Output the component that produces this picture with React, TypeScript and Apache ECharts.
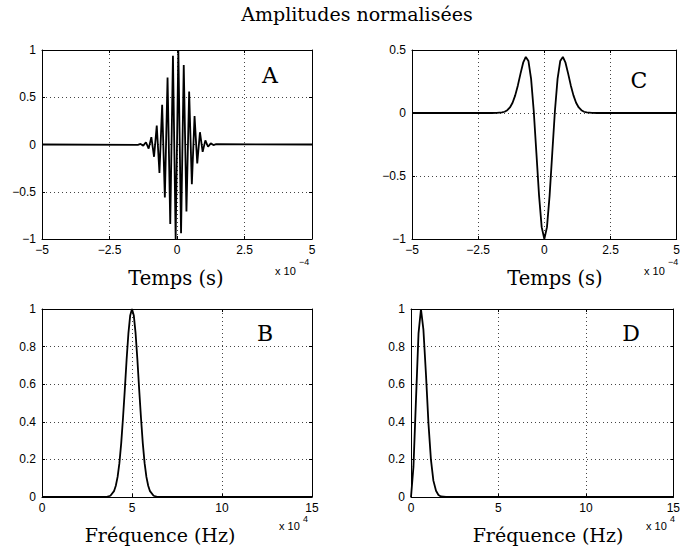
import React, { useEffect, useRef } from "react";
import * as echarts from "echarts";

// Panel A: modulated wavelet (time in units of 1e-4 s), extrema
const aTime = [-5, -1.45, -1.35, -1.25, -1.15, -1.05, -0.95, -0.85, -0.75, -0.65, -0.55, -0.45, -0.35, -0.25, -0.15, -0.05,
  0.05, 0.15, 0.25, 0.35, 0.45, 0.55, 0.65, 0.75, 0.85, 0.95, 1.05, 1.15, 1.25, 1.35, 1.45, 5];
const aAmp = [0, -0.003, 0.006, -0.012, 0.024, -0.044, 0.078, -0.13, 0.2, -0.3, 0.42, -0.56, 0.71, -0.84, 0.94, -1.0,
  1.0, -0.94, 0.84, -0.71, 0.56, -0.42, 0.3, -0.2, 0.13, -0.078, 0.044, -0.024, 0.012, -0.006, 0.003, 0];

// Panel C: Ricker-like wavelet (time in units of 1e-4 s)
const cTime = [-5, -2, -1.8, -1.6, -1.5, -1.4, -1.3, -1.2, -1.1, -1.0, -0.9, -0.8, -0.7, -0.6, -0.5, -0.4, -0.3, -0.2, -0.1, 0,
  0.1, 0.2, 0.3, 0.4, 0.5, 0.6, 0.7, 0.8, 0.9, 1.0, 1.1, 1.2, 1.3, 1.4, 1.5, 1.6, 1.8, 2, 5];
const cAmp = [0, 0, 0.0006, 0.0042, 0.0099, 0.022, 0.044, 0.081, 0.14, 0.219, 0.3125, 0.399, 0.445, 0.4125, 0.271, 0.016, -0.317, -0.654, -0.906, -1,
  -0.906, -0.654, -0.317, 0.016, 0.271, 0.4125, 0.445, 0.399, 0.3125, 0.219, 0.14, 0.081, 0.044, 0.022, 0.0099, 0.0042, 0.0006, 0, 0];

// Panel B: spectrum of A (frequency in units of 1e4 Hz)
const bFreq = [0, 3.6, 3.8, 4.0, 4.1, 4.2, 4.3, 4.4, 4.5, 4.6, 4.7, 4.8, 4.9, 5.0, 5.1, 5.2, 5.3, 5.4, 5.5, 5.6, 5.7, 5.8, 5.9, 6.0, 6.2, 6.4, 15];
const bAmp = [0, 0.001, 0.0066, 0.031, 0.06, 0.107, 0.18, 0.285, 0.42, 0.57, 0.73, 0.87, 0.966, 1, 0.966, 0.87, 0.73, 0.57, 0.42, 0.285, 0.18, 0.107, 0.06, 0.031, 0.0066, 0.001, 0];

// Panel D: spectrum of C (frequency in units of 1e4 Hz)
const dFreq = [0, 0.14, 0.29, 0.43, 0.57, 0.71, 0.86, 1.0, 1.14, 1.28, 1.43, 1.57, 1.71, 2.0, 15];
const dAmp = [0, 0.16, 0.53, 0.87, 1, 0.89, 0.645, 0.389, 0.199, 0.087, 0.033, 0.011, 0.003, 0.0004, 0];

const title = "Amplitudes normalisées";
const timeLabel = "Temps (s)";
const freqLabel = "Fréquence (Hz)";
const panelLetters = ["A", "C", "B", "D"];

const SANS = "'Liberation Sans', Arial, Helvetica, sans-serif";
const SERIF = "'DejaVu Serif', serif";

const fmt = (v: number) => String(v).replace("-", "\u2212");

const grids = [
  { left: 42, top: 50, width: 270, height: 189 },
  { left: 412, top: 50, width: 270, height: 189 },
  { left: 42, top: 309, width: 270, height: 188 },
  { left: 411, top: 309, width: 271, height: 188 },
];

const axisRanges = [
  { x: [-5, 5, 2.5], y: [-1, 1, 0.5] },
  { x: [-5, 5, 2.5], y: [-1, 0.5, 0.5] },
  { x: [0, 15, 5], y: [0, 1, 0.2] },
  { x: [0, 15, 5], y: [0, 1, 0.2] },
];

const seriesData = [
  aTime.map((t, i) => [t, aAmp[i]]),
  cTime.map((t, i) => [t, cAmp[i]]),
  bFreq.map((f, i) => [f, bAmp[i]]),
  dFreq.map((f, i) => [f, dAmp[i]]),
];

function buildOption() {
  const xAxis: any[] = [];
  const yAxis: any[] = [];
  const series: any[] = [];
  const lineStyle = { color: "#000", width: 1 };
  const tick = { show: true, inside: true, length: 3, lineStyle: { color: "#000", width: 1 } };
  const split = { show: true, lineStyle: { color: "#444", type: [1, 3], width: 1 } };
  axisRanges.forEach((r, gi) => {
    const [xmin, xmax, xint] = r.x;
    const [ymin, ymax, yint] = r.y;
    xAxis.push({
      type: "value", gridIndex: gi, min: xmin, max: xmax, interval: xint, position: "bottom",
      axisLine: { show: true, onZero: false, lineStyle },
      axisTick: tick,
      axisLabel: { show: true, color: "#000", fontFamily: SANS, fontSize: 12, margin: 5, formatter: fmt, showMinLabel: true, showMaxLabel: true },
      splitLine: split,
    });
    xAxis.push({
      type: "value", gridIndex: gi, min: xmin, max: xmax, interval: xint, position: "top",
      axisLine: { show: true, onZero: false, lineStyle },
      axisTick: tick, axisLabel: { show: false }, splitLine: { show: false },
    });
    yAxis.push({
      type: "value", gridIndex: gi, min: ymin, max: ymax, interval: yint, position: "left",
      axisLine: { show: true, onZero: false, lineStyle },
      axisTick: tick,
      axisLabel: { show: true, color: "#000", fontFamily: SANS, fontSize: 12, margin: 6, formatter: fmt, showMinLabel: true, showMaxLabel: true },
      splitLine: split,
    });
    yAxis.push({
      type: "value", gridIndex: gi, min: ymin, max: ymax, interval: yint, position: "right",
      axisLine: { show: true, onZero: false, lineStyle },
      axisTick: tick, axisLabel: { show: false }, splitLine: { show: false },
    });
    series.push({
      type: "line", xAxisIndex: 2 * gi, yAxisIndex: 2 * gi, data: seriesData[gi],
      showSymbol: false, symbol: "none", silent: true, clip: true,
      lineStyle: { color: "#000", width: 1.8 },
    });
  });

  const txt = (text: string, x: number, y: number, size: number, family: string, align = "center") => ({
    type: "text", x, y, silent: true,
    style: { text, fontSize: size, fontFamily: family, fill: "#000", align, verticalAlign: "middle", textAlign: align, textVerticalAlign: "middle" },
  });

  const graphic = [
    txt(title, 357, 14, 19, SERIF),
    txt(timeLabel, 176, 278, 19.5, SERIF),
    txt(timeLabel, 555, 278, 19.5, SERIF),
    txt(freqLabel, 160, 535, 19, SERIF),
    txt(freqLabel, 548, 535, 19, SERIF),
    txt("x 10", 275, 271, 11, SANS, "left"),
    txt("\u22124", 299, 262, 9, SANS, "left"),
    txt("x 10", 644, 271, 11, SANS, "left"),
    txt("\u22124", 668, 262, 9, SANS, "left"),
    txt("x 10", 279, 526, 11, SANS, "left"),
    txt("4", 303, 519, 9, SANS, "left"),
    txt("x 10", 646, 526, 11, SANS, "left"),
    txt("4", 670, 519, 9, SANS, "left"),
    txt(panelLetters[0], 270, 75, 22, SERIF),
    txt(panelLetters[1], 639, 80, 22, SERIF),
    txt(panelLetters[2], 265, 333, 22, SERIF),
    txt(panelLetters[3], 631, 333, 22, SERIF),
  ];

  return {
    animation: false,
    backgroundColor: "#fff",
    grid: grids.map((g) => ({ ...g, containLabel: false })),
    xAxis, yAxis, series, graphic,
  };
}

export default function App() {
  const ref = useRef<HTMLDivElement>(null);
  useEffect(() => {
    if (!ref.current) return;
    const chart = echarts.init(ref.current, undefined, { renderer: "svg" });
    chart.setOption(buildOption() as any);
    return () => chart.dispose();
  }, []);
  return (
    <div
      ref={ref}
      style={{ position: "fixed", left: 0, top: 0, width: 683, height: 554, background: "#fff" }}
    />
  );
}
